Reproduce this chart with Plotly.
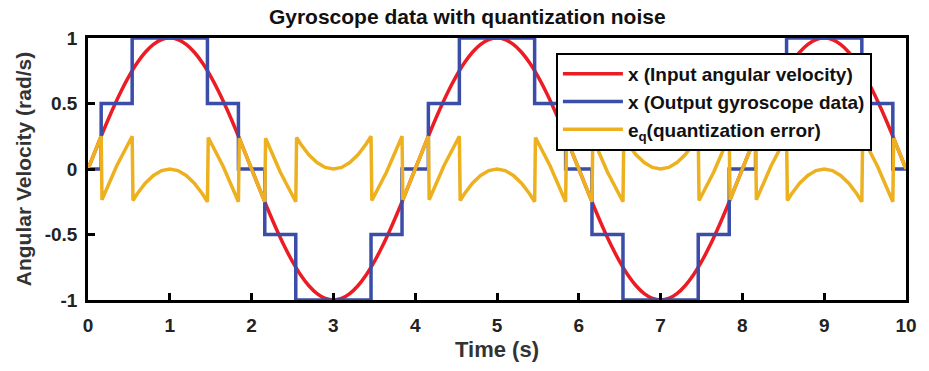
import plotly.graph_objects as go

# ---- data ----
t_in = [round(0.1 * i, 1) for i in range(101)]
x_in = [0, 0.156, 0.309, 0.454, 0.588, 0.707, 0.809, 0.891, 0.951, 0.988,
        1.0, 0.988, 0.951, 0.891, 0.809, 0.707, 0.588, 0.454, 0.309, 0.156,
        0, -0.156, -0.309, -0.454, -0.588, -0.707, -0.809, -0.891, -0.951, -0.988,
        -1.0, -0.988, -0.951, -0.891, -0.809, -0.707, -0.588, -0.454, -0.309, -0.156,
        0, 0.156, 0.309, 0.454, 0.588, 0.707, 0.809, 0.891, 0.951, 0.988,
        1.0, 0.988, 0.951, 0.891, 0.809, 0.707, 0.588, 0.454, 0.309, 0.156,
        0, -0.156, -0.309, -0.454, -0.588, -0.707, -0.809, -0.891, -0.951, -0.988,
        -1.0, -0.988, -0.951, -0.891, -0.809, -0.707, -0.588, -0.454, -0.309, -0.156,
        0, 0.156, 0.309, 0.454, 0.588, 0.707, 0.809, 0.891, 0.951, 0.988,
        1.0, 0.988, 0.951, 0.891, 0.809, 0.707, 0.588, 0.454, 0.309, 0.156, 0]

t_out = [0, 0.161, 0.540, 1.460, 1.839, 2.161, 2.540, 3.460, 3.839,
         4.161, 4.540, 5.460, 5.839, 6.161, 6.540, 7.460, 7.839,
         8.161, 8.540, 9.460, 9.839, 10]
x_out = [0, 0.5, 1, 0.5, 0, -0.5, -1, -0.5, 0,
         0.5, 1, 0.5, 0, -0.5, -1, -0.5, 0,
         0.5, 1, 0.5, 0, 0]

t_err = [0.000, 0.161, 0.171, 0.350, 0.540,
         0.550, 0.600, 0.700, 0.800, 0.900, 1.000, 1.100, 1.200, 1.300, 1.400, 1.460,
         1.470, 1.650, 1.839, 1.849, 2.000, 2.161, 2.171, 2.350, 2.540,
         2.550, 2.600, 2.700, 2.800, 2.900, 3.000, 3.100, 3.200, 3.300, 3.400, 3.460,
         3.470, 3.650, 3.839, 3.849, 4.000, 4.161, 4.171, 4.350, 4.540,
         4.550, 4.600, 4.700, 4.800, 4.900, 5.000, 5.100, 5.200, 5.300, 5.400, 5.460,
         5.470, 5.650, 5.839, 5.849, 6.000, 6.161, 6.171, 6.350, 6.540,
         6.550, 6.600, 6.700, 6.800, 6.900, 7.000, 7.100, 7.200, 7.300, 7.400, 7.460,
         7.470, 7.650, 7.839, 7.849, 8.000, 8.161, 8.171, 8.350, 8.540,
         8.550, 8.600, 8.700, 8.800, 8.900, 9.000, 9.100, 9.200, 9.300, 9.400, 9.460,
         9.470, 9.650, 9.839, 9.849, 10.000]
e_err = [0.000, 0.250, -0.235, 0.023, 0.250,
         -0.240, -0.191, -0.109, -0.049, -0.012, 0.000, -0.012, -0.049, -0.109, -0.191, -0.250,
         0.240, 0.023, -0.250, 0.235, 0.000, -0.250, 0.235, -0.023, -0.250,
         0.240, 0.191, 0.109, 0.049, 0.012, 0.000, 0.012, 0.049, 0.109, 0.191, 0.250,
         -0.240, -0.023, 0.250, -0.235, 0.000, 0.250, -0.235, 0.023, 0.250,
         -0.240, -0.191, -0.109, -0.049, -0.012, 0.000, -0.012, -0.049, -0.109, -0.191, -0.250,
         0.240, 0.023, -0.250, 0.235, 0.000, -0.250, 0.235, -0.023, -0.250,
         0.240, 0.191, 0.109, 0.049, 0.012, 0.000, 0.012, 0.049, 0.109, 0.191, 0.250,
         -0.240, -0.023, 0.250, -0.235, 0.000, 0.250, -0.235, 0.023, 0.250,
         -0.240, -0.191, -0.109, -0.049, -0.012, 0.000, -0.012, -0.049, -0.109, -0.191, -0.250,
         0.240, 0.023, -0.250, 0.235, 0.000]

x_ticks = [0, 1, 2, 3, 4, 5, 6, 7, 8, 9, 10]
y_ticks = [-1, -0.5, 0, 0.5, 1]
y_tick_text = ["-1", "-0.5", "0", "0.5", "1"]

names = ["x (Input angular velocity)", "x (Output gyroscope data)",
         "e<sub>q</sub>(quantization error)"]
colors = ["#EC1C24", "#3A4DA8", "#EDB120"]

FONT = "Liberation Sans, Arial, Helvetica, sans-serif"

fig = go.Figure()
fig.add_trace(go.Scatter(x=t_in, y=x_in, mode="lines", name=names[0],
                         line=dict(color=colors[0], width=3.5, shape="spline")))
fig.add_trace(go.Scatter(x=t_out, y=x_out, mode="lines", name=names[1],
                         line=dict(color=colors[1], width=3.5, shape="hv")))
fig.add_trace(go.Scatter(x=t_err, y=e_err, mode="lines", name=names[2],
                         line=dict(color=colors[2], width=3.5)))

axis_common = dict(showline=True, linecolor="black", linewidth=2.5, mirror=True,
                   ticks="inside", ticklen=7, tickwidth=2.5, tickcolor="black",
                   showgrid=False, zeroline=False,
                   tickfont=dict(family=FONT, size=19, color="#222222", weight="bold"))

fig.update_layout(
    width=929, height=371,
    margin=dict(l=88, r=19, t=38, b=71),
    paper_bgcolor="white", plot_bgcolor="white",
    title=dict(text="<b>Gyroscope data with quantization noise</b>", x=0.503, xanchor="center",
               y=0.955, yanchor="middle",
               font=dict(family=FONT, size=21, color="#111111")),
    xaxis=dict(range=[0, 10], tickvals=x_ticks, ticklabelstandoff=6, **axis_common,
               title=dict(text="<b>Time (s)</b>", standoff=8,
                          font=dict(family=FONT, size=22, color="#333333"))),
    yaxis=dict(range=[-1, 1], tickvals=y_ticks, ticktext=y_tick_text,
               ticklabelstandoff=4, **axis_common,
               title=dict(text="<b>Angular Velocity (rad/s)</b>", standoff=8,
                          font=dict(family=FONT, size=21, color="#333333"))),
    legend=dict(x=0.572, y=0.943, xanchor="left", yanchor="top",
                bgcolor="white", bordercolor="black", borderwidth=2,
                font=dict(family=FONT, size=19, color="#111111", weight="bold"),
                itemwidth=60, tracegroupgap=0),
    showlegend=True,
)

fig.write_html("out.html")
